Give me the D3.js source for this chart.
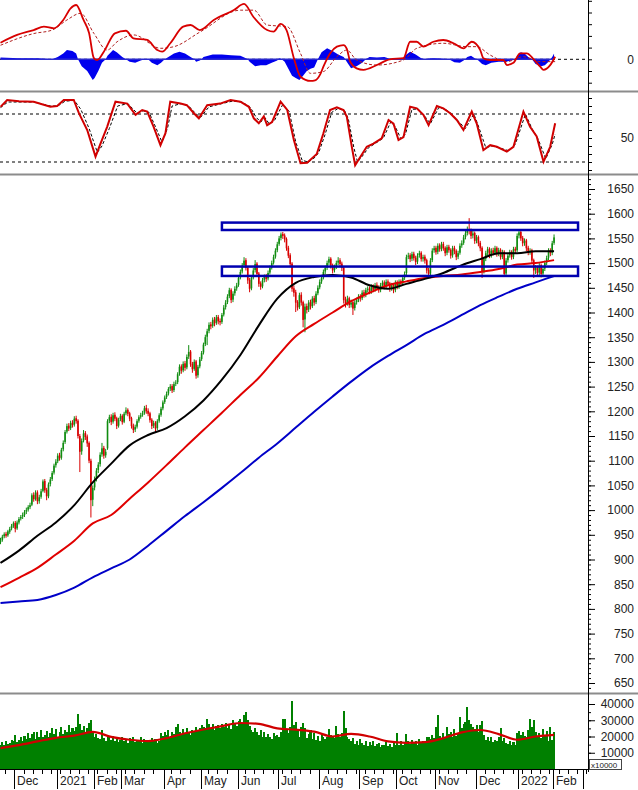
<!DOCTYPE html>
<html>
<head>
<meta charset="utf-8">
<script src="https://cdn.jsdelivr.net/npm/d3@7"></script>
<style>
  body { margin: 0; background: #fff; }
  svg { display: block; font-family: "Liberation Sans", Arial, sans-serif; }
</style>
</head>
<body>
<svg id="chart" width="638" height="790"></svg>
<script>
// daily sessions, 19 Nov 2020 .. 7 Feb 2022 (index = trading day)
var opens = [935,940,947,952,949,956,963,968,974,963,
975,983,987,990,997,1001,1006,1011,1031,1022,
1036,1018,1027,1039,1059,1041,1028,1053,1063,1076,
1091,1099,1111,1106,1123,1138,1159,1171,1166,1177,
1173,1186,1181,1150,1119,1141,1156,1149,1136,1100,
1021,1046,1063,1081,1093,1113,1126,1111,1125,1181,
1189,1179,1193,1186,1171,1184,1191,1179,1196,1203,
1196,1186,1171,1163,1169,1181,1189,1193,1197,1207,
1201,1196,1183,1171,1177,1166,1181,1193,1206,1219,
1229,1236,1246,1251,1243,1256,1259,1276,1291,1283,
1297,1289,1311,1321,1296,1286,1301,1273,1291,1306,
1319,1336,1351,1363,1376,1373,1386,1379,1391,1383,
1381,1396,1411,1421,1433,1446,1426,1439,1449,1456,
1471,1483,1496,1506,1491,1466,1449,1471,1486,1499,
1479,1459,1453,1466,1473,1469,1481,1491,1501,1513,
1526,1539,1551,1559,1556,1549,1531,1516,1499,1449,
1441,1421,1411,1436,1421,1386,1413,1406,1421,1413,
1429,1421,1439,1451,1463,1471,1483,1491,1501,1509,
1496,1486,1493,1501,1506,1499,1491,1426,1419,1429,
1416,1421,1409,1421,1426,1433,1429,1441,1436,1446,
1449,1443,1453,1447,1456,1451,1446,1456,1461,1453,
1463,1459,1449,1456,1446,1461,1453,1463,1459,1471,
1480,1513,1516,1509,1519,1511,1503,1516,1521,1509,
1513,1506,1486,1479,1506,1526,1531,1523,1536,1529,
1539,1531,1521,1533,1527,1516,1531,1525,1513,1521,
1536,1541,1553,1561,1569,1566,1556,1561,1546,1553,
1541,1531,1483,1509,1521,1529,1516,1526,1521,1531,
1519,1527,1513,1523,1479,1506,1516,1523,1513,1529,
1526,1556,1563,1551,1541,1546,1531,1523,1526,1506,
1486,1491,1481,1496,1479,1489,1501,1511,1526,1521,1541];

var highs = [944,950,955,956,960,966,972,977,978,979,
986,990,995,1000,1005,1010,1015,1034,1036,1040,
1040,1031,1043,1062,1063,1045,1056,1067,1079,1094,
1103,1115,1116,1126,1141,1162,1175,1176,1181,1182,
1190,1191,1184,1154,1145,1162,1160,1153,1139,1104,
1050,1068,1085,1097,1117,1136,1130,1124,1184,1193,
1194,1197,1198,1189,1187,1195,1194,1199,1208,1206,
1199,1189,1175,1173,1184,1192,1197,1201,1211,1213,
1206,1199,1186,1181,1180,1184,1196,1209,1222,1232,
1240,1249,1255,1255,1260,1263,1279,1295,1295,1301,
1302,1315,1334,1324,1300,1305,1304,1294,1310,1322,
1339,1355,1367,1380,1381,1390,1391,1395,1395,1388,
1399,1415,1425,1437,1450,1449,1443,1453,1460,1475,
1487,1500,1512,1510,1494,1470,1475,1490,1506,1502,
1482,1463,1470,1477,1478,1485,1495,1505,1517,1530,
1543,1555,1562,1563,1560,1552,1535,1520,1502,1455,
1446,1425,1440,1441,1424,1418,1418,1425,1426,1433,
1434,1443,1455,1467,1475,1487,1495,1505,1513,1512,
1499,1497,1505,1512,1510,1503,1494,1432,1434,1432,
1426,1424,1425,1430,1437,1437,1445,1446,1450,1453,
1453,1457,1457,1460,1461,1455,1460,1465,1465,1467,
1467,1462,1460,1459,1465,1465,1467,1467,1475,1483,
1517,1521,1520,1523,1523,1515,1520,1525,1524,1517,
1517,1509,1490,1510,1530,1535,1535,1540,1540,1543,
1543,1534,1537,1537,1530,1535,1535,1528,1525,1540,
1546,1557,1565,1574,1591,1570,1565,1564,1557,1556,
1545,1534,1512,1525,1533,1532,1530,1531,1535,1534,
1531,1530,1527,1526,1510,1520,1527,1526,1533,1533,
1560,1567,1566,1555,1550,1549,1535,1530,1529,1509,
1496,1495,1500,1499,1493,1505,1515,1530,1530,1545,1558];

var lows = [931,936,943,944,946,952,959,964,955,960,
971,979,982,986,992,997,1002,1008,1017,1019,
1012,1013,1023,1036,1035,1020,1024,1048,1059,1072,
1086,1095,1100,1102,1119,1134,1155,1160,1162,1167,
1169,1175,1145,1077,1112,1137,1142,1128,1095,985,
1008,1040,1058,1075,1088,1108,1104,1106,1122,1176,
1172,1175,1180,1164,1167,1180,1173,1176,1192,1190,
1180,1165,1156,1158,1165,1177,1185,1189,1193,1195,
1190,1177,1164,1166,1156,1162,1177,1189,1202,1215,
1225,1232,1241,1237,1239,1251,1255,1272,1276,1279,
1282,1285,1306,1290,1278,1282,1266,1268,1287,1302,
1315,1332,1334,1358,1366,1369,1372,1375,1376,1374,
1377,1392,1406,1417,1429,1419,1421,1434,1444,1452,
1467,1479,1491,1485,1458,1441,1445,1467,1481,1472,
1452,1446,1449,1461,1462,1465,1477,1487,1497,1509,
1522,1535,1546,1549,1542,1525,1510,1492,1442,1432,
1401,1404,1407,1414,1370,1360,1398,1401,1406,1409,
1414,1417,1435,1447,1458,1467,1478,1486,1496,1489,
1479,1481,1488,1496,1492,1484,1418,1410,1414,1409,
1410,1395,1404,1416,1421,1422,1425,1430,1431,1441,
1437,1438,1441,1442,1445,1440,1441,1451,1447,1448,
1453,1442,1444,1439,1441,1447,1448,1453,1455,1466,
1476,1508,1502,1504,1505,1496,1498,1511,1503,1503,
1499,1479,1471,1475,1502,1521,1517,1518,1523,1524,
1525,1514,1516,1521,1509,1511,1518,1506,1508,1517,
1531,1537,1548,1556,1558,1549,1550,1539,1540,1534,
1524,1470,1479,1504,1516,1510,1511,1515,1516,1513,
1514,1507,1508,1472,1475,1501,1511,1507,1508,1520,
1522,1550,1545,1534,1535,1524,1516,1517,1499,1470,
1478,1472,1476,1471,1473,1484,1496,1506,1514,1516,1537];

var closes = [940,946,951,948,957,962,968,973,962,975,
982,986,990,996,1000,1006,1010,1030,1022,1035,
1018,1026,1038,1058,1040,1028,1052,1062,1075,1090,
1098,1110,1105,1122,1136,1158,1170,1165,1176,1172,
1185,1180,1150,1118,1140,1155,1148,1135,1100,1020,
1045,1062,1080,1092,1112,1125,1110,1118,1180,1188,
1178,1192,1185,1170,1183,1190,1178,1195,1202,1195,
1185,1170,1162,1168,1180,1188,1192,1196,1206,1200,
1195,1182,1170,1176,1165,1180,1192,1205,1218,1228,
1235,1245,1250,1242,1255,1258,1275,1290,1282,1296,
1288,1310,1320,1295,1285,1300,1272,1290,1305,1318,
1335,1350,1362,1375,1372,1385,1378,1390,1382,1380,
1395,1410,1420,1432,1445,1425,1438,1448,1455,1470,
1482,1495,1505,1490,1465,1448,1470,1485,1498,1478,
1458,1452,1465,1472,1468,1480,1490,1500,1512,1525,
1538,1550,1558,1555,1548,1530,1515,1498,1448,1440,
1420,1410,1435,1420,1385,1412,1405,1420,1412,1428,
1420,1438,1450,1462,1470,1482,1490,1500,1508,1495,
1485,1492,1500,1505,1498,1490,1425,1418,1428,1415,
1420,1408,1420,1425,1432,1428,1440,1435,1445,1448,
1442,1452,1446,1455,1450,1445,1455,1460,1452,1462,
1458,1448,1455,1445,1460,1452,1462,1458,1470,1478,
1512,1515,1508,1518,1510,1502,1515,1520,1508,1512,
1505,1485,1478,1505,1525,1530,1522,1535,1528,1538,
1530,1520,1532,1526,1515,1530,1524,1512,1520,1535,
1540,1552,1560,1568,1565,1555,1560,1545,1552,1540,
1530,1482,1508,1520,1528,1515,1525,1520,1530,1518,
1526,1512,1522,1478,1505,1515,1522,1512,1528,1525,
1555,1562,1550,1540,1545,1530,1522,1525,1505,1485,
1490,1480,1495,1478,1488,1500,1510,1525,1520,1540,1552];

var volumes = [15000,16500,14500,17000,15500,16000,18000,17500,21000,16500,
18000,19500,17000,20500,18500,22000,19000,21500,23000,18500,
22500,20000,24000,19500,21000,23500,20000,22000,25000,21500,
24500,20000,23000,26000,21500,24000,22500,27000,23000,25000,
23500,26000,34000,27500,24000,26500,23000,25000,28500,30000,
22000,20000,21500,19000,18500,24000,19000,17500,21000,19500,
18000,20500,17000,19500,16500,18000,20000,17000,18500,16000,
19000,17500,20000,16500,18000,17000,19500,16000,18500,17500,
18000,16500,19000,17000,18500,16000,17500,22000,20500,23000,
21000,24000,20000,22500,21500,26000,27500,23000,21000,24500,
22000,25500,23000,21000,24000,22500,26000,23500,25000,27000,
26000,25000,31000,27500,25000,28000,24000,26500,27000,25500,
27500,26000,28500,25000,27000,24500,30000,28000,26500,29500,
31000,28500,33000,35000,30000,26500,24000,22500,25000,23000,
21000,24000,20000,22500,19500,21500,20000,18500,22000,20500,
21000,19500,23000,30500,31000,24000,22000,26000,42000,27000,
29000,24500,20000,26000,28500,25500,19000,21500,24000,18500,
22000,18000,20500,17500,21000,19500,18500,20000,24500,21000,
20000,19000,26500,21500,20000,22000,36000,25500,20000,18500,
17500,19000,15500,17000,14500,18500,16000,15000,17500,14000,
16500,15000,17000,14000,15500,16000,13500,15000,14500,16500,
14000,15500,13500,16000,14500,22000,15000,17000,14500,16500,
21500,17000,15500,18000,16000,17500,15000,18500,16500,17000,
16000,19500,20000,18500,21000,19000,26000,33000,20500,19000,
22000,20000,26000,21500,23000,19500,24500,20500,22000,32000,
25000,27500,29000,38000,30000,28000,26000,24500,27000,23000,
27000,29500,21000,18000,20000,17000,19500,16500,18000,17500,
20000,25000,17500,19000,16000,15500,17000,14500,16500,15000,
22000,23500,21000,22500,20500,19500,24000,31000,26000,30000,
23000,20500,22000,19000,24500,21000,23500,17500,26000,18000,22500];

var maStep = 10;
var maBlack = [893,918,948,975,1010,1056,1094,1131,1152,1166,1190,1222,1264,1314,1374,1428,1460,1472,1476,1471,1455,1448,1458,1468,1480,1496,1508,1520,1520,1524,1524];
var maRed = [844,863,883,910,938,973,990,1023,1056,1091,1127,1162,1197,1233,1268,1311,1352,1377,1400,1423,1440,1455,1463,1470,1474,1477,1482,1488,1497,1500,1506];
var maBlue = [812,815,818,828,843,864,882,900,928,958,988,1016,1045,1075,1106,1135,1167,1199,1230,1260,1288,1312,1334,1357,1375,1395,1415,1432,1448,1461,1474];
var volMa = [12900,14700,17000,19200,20500,22800,19800,18000,17200,19000,22000,24300,26400,28300,27800,25000,24200,23000,20000,21600,20000,17000,16100,16500,19000,22500,24000,21500,18000,20000,21000];

// indicator readings [session, value]
var macdLine = [[0,14.2],[9,20.8],[18,25],[23.5,27.9],[29,26.5],[34,33.6],[38,43.6],[41,46.4],[45,33.6],[48,22.5],[50.6,1],[52.4,-0.6],[56,6.5],[62,22.2],[68,24.4],[72,17.9],[79.5,16.5],[85,7.9],[87.6,6.5],[92,13.7],[99,27.9],[103,29.3],[108,25],[115.6,33.6],[126.5,42.1],[132,47.3],[137,36.4],[144.5,25],[148,23.6],[151.8,30.2],[155,25],[159,0.9],[162.6,-14.9],[168,-18.5],[170.5,-18],[173.4,-12.5],[175,-6.3],[178.6,5],[182.3,10.8],[185.9,12.2],[187.7,9],[189.5,-2],[193,-7.7],[196.7,-9],[204,-4.9],[211,0],[218.4,1],[222,15],[225.6,15],[229.2,10.8],[234.6,15],[240,16.5],[245.5,13.7],[251,9.4],[255.4,15],[260,7.9],[261.7,0.9],[265.4,-0.6],[272.6,-0.6],[274.4,-4.9],[278,-3],[281.6,5],[285.2,5],[289,0],[292.5,-6.3],[294.3,-9],[297.9,-5],[300.6,2.2]];
var macdSignal = [[0,12],[18,22],[28,25],[36,33.6],[43.4,39.3],[50.6,22.2],[57.8,7.9],[63.2,15],[72.3,20.8],[86.7,9.4],[94,10.8],[108.4,23.6],[130,42],[137.3,42],[144.5,29.3],[155.4,27.9],[162.6,5],[168,-12],[175,-10.5],[182.3,2.2],[187.7,7.9],[193,-0.6],[204,-4.9],[218.4,-0.6],[225.6,9.4],[240,13.7],[252.7,10.8],[258,10.8],[265.4,3.6],[274.4,-2],[283.4,2.2],[292.5,-2],[300.6,-2]];
var macdHist = [[0,1.5],[10,1],[20,1],[24,0.5],[28,0],[31,2],[34,5],[36,8],[39,7],[41,5],[42,0],[44,-6],[47,-10],[50,-17.7],[51,-16],[53,-10],[55,-3],[57,0],[58,3],[61,8],[63,6],[66,2],[68,0],[70,-2],[73,-3],[76,-1],[78,0],[80,0],[82,-3],[85,-5],[87,-3],[89,0],[91,2],[94,5],[97,6.5],[100,5],[103,2],[105,0],[106,-2],[108,-1],[109,0],[110,2],[115,4],[120,4],[125,3.5],[130,3],[133,1],[134,0],[135,-2],[138,-6],[141,-5],[144,-5],[147,-3],[150,-1],[151,1],[152,0.5],[154,-2],[156,-8],[158,-14],[160,-16],[162,-17.7],[164,-14],[166,-10],[168,-8],[170,-7],[172,0],[174,6],[177,9.4],[180,7],[183,4],[186,2],[188,-3],[190,-7.7],[193,-6],[196,-3],[198,0],[200,2],[204,1.5],[208,2],[211,0.5],[215,0],[218,1],[220,4],[222,6.5],[225,4],[228,1],[230,0],[233,1],[236,1],[240,0.5],[243,0],[246,-2.5],[249,-3],[251,-1],[253,2],[255,3],[257,1],[259,-1],[261,-4],[263,-5],[266,-3],[270,-2],[274,-2],[277,-1],[279,0],[280,3],[282,6],[284,5],[286,2],[288,0],[290,-4],[293,-6],[295,-5],[297,-2],[299,2],[300,5]];
var stochK = [[0,89],[3.6,97.5],[10,96],[18,95.4],[27,89],[30.7,90],[34.3,97.5],[39.7,97.5],[42.5,81],[47,60],[51.5,26.7],[54.2,43],[57.8,64],[62.3,95.4],[68.7,93],[73.2,79],[76.8,85],[79.5,83],[83,64],[86.7,41],[89.4,56],[92,95.4],[97.6,93],[101,91],[104.8,81],[107.5,74.6],[112,91],[119,93],[124.7,97.5],[130,95.4],[134.6,89],[137.3,74.6],[140,68.4],[142.7,77],[144.5,66],[147.2,70],[151.8,95.4],[155.4,85],[159,47.5],[162.6,18.4],[166.2,19],[169.8,26.7],[171.4,30],[175,56],[178.6,85],[182.3,88.4],[185.9,85],[187.7,76.6],[190.4,39],[192.2,16],[194.9,26],[198.5,39],[202.1,43],[206.6,49.6],[210.3,72.5],[213,68],[215.7,47.5],[218.4,51],[222,89],[225.6,87],[229.2,79],[232,66],[236.5,90],[240,87],[243.7,81],[247.3,72.5],[250.9,60],[255.4,83],[258.1,68],[261.7,35],[265.4,41],[269,39],[274.4,33],[278,39],[283.4,83],[287,64],[290.6,52],[294.3,20.4],[297.9,39],[300.6,68.4]];
var stochD = [[0,88],[4,95],[18,95],[27,90],[31,90],[35,96],[40,97],[43.5,86],[48,62],[52.5,32],[55,40],[59,62],[63.5,90],[69,93],[74,81],[77.5,84],[80.5,82],[84,64],[87.5,45],[90.5,62],[93,90],[98,93],[102,90],[106,80],[108.5,76],[113,89],[120,93],[125.5,96],[131,95],[135.5,88],[138.5,76],[141,70],[143.5,75],[145.5,68],[148.5,72],[153,92],[156.5,83],[160,45],[163.5,22],[167,20],[170.5,26],[172.5,32],[176,55],[179.5,82],[183,87],[186.5,84],[188.5,74],[191.5,38],[193.5,20],[196,27],[199.5,38],[203,43],[207.5,50],[211.5,70],[214,64],[217,49],[219.5,55],[223,86],[226.5,86],[230,77],[233,68],[237.5,88],[241,86],[244.5,80],[248.5,70],[252,62],[256.5,80],[259,65],[263,38],[266.5,40],[270,38],[275.5,34],[279,42],[284.5,80],[288,62],[291.5,48],[295.5,24],[299,42],[300.6,55]];

// support / resistance zones drawn on the chart
var zoneFrom = [120, 120];
var zoneTo = [313, 313];
var zoneTop = [1582, 1493];
var zoneBottom = [1567, 1474];

var priceTicks = d3.range(650, 1651, 50);
var volumeTicks = [10000, 20000, 30000, 40000];
var monthTicks = [7.5, 30.5, 50.5, 65.5, 88.5, 108.5, 128.5, 150.5, 172.5, 194.5, 214.5, 235.5, 257.5, 280.5, 299.5, 315.5];
var monthLabels = ["Dec", "2021", "Feb", "Mar", "Apr", "May", "Jun", "Jul", "Aug", "Sep", "Oct", "Nov", "Dec", "2022", "Feb", ""];

var svg = d3.select("#chart");
var W = 638, axisX = 588;
var up = "#108c10", down = "#d80000";

var x = d3.scaleLinear().domain([0, 318.4]).range([0.5, axisX]);
var yPrice = d3.scaleLinear().domain([650, 1650]).range([683, 189]);
var yVol = d3.scaleLinear().domain([0, 40000]).range([769, 704]);
var yMacd = d3.scaleLinear().domain([0, 10]).range([59.3, 47.6]);
var yStoch = d3.scaleLinear().domain([20, 80]).range([162, 114]);

var panels = {macd: [0, 90], stoch: [93, 173], price: [176, 692], vol: [695, 769]};
Object.keys(panels).forEach(function(k) {
  svg.append("clipPath").attr("id", "clip-" + k).append("rect")
    .attr("x", 0).attr("y", panels[k][0])
    .attr("width", axisX).attr("height", panels[k][1] - panels[k][0]);
});

function series(arr) { return arr.map(function(v, k) { return [k * maStep, v]; }); }

// ---- MACD panel ----
var gMacd = svg.append("g").attr("clip-path", "url(#clip-macd)");
gMacd.append("line").attr("x1", 0).attr("x2", axisX)
  .attr("y1", yMacd(0)).attr("y2", yMacd(0))
  .attr("stroke", "#000").attr("stroke-dasharray", "3,3");
gMacd.append("path").datum(macdHist)
  .attr("fill", "#0000ee")
  .attr("d", d3.area().x(d => x(d[0])).y0(yMacd(0)).y1(d => yMacd(d[1])));
gMacd.append("line").attr("x1", x(0)).attr("x2", x(closes.length - 1))
  .attr("y1", yMacd(0)).attr("y2", yMacd(0))
  .attr("stroke", "#2a2ad0").attr("stroke-width", 1.5);
gMacd.append("path").datum(macdSignal)
  .attr("fill", "none").attr("stroke", "#b02020").attr("stroke-width", 1)
  .attr("stroke-dasharray", "3,2")
  .attr("d", d3.line().x(d => x(d[0])).y(d => yMacd(d[1])).curve(d3.curveMonotoneX));
gMacd.append("path").datum(macdLine)
  .attr("fill", "none").attr("stroke", "#d80000").attr("stroke-width", 1.8)
  .attr("d", d3.line().x(d => x(d[0])).y(d => yMacd(d[1])).curve(d3.curveMonotoneX));

// ---- stochastic panel ----
var gSto = svg.append("g").attr("clip-path", "url(#clip-stoch)");
[80, 20].forEach(function(v) {
  gSto.append("line").attr("x1", 0).attr("x2", axisX)
    .attr("y1", yStoch(v)).attr("y2", yStoch(v))
    .attr("stroke", "#000").attr("stroke-dasharray", "3,3");
});
gSto.append("path").datum(stochD)
  .attr("fill", "none").attr("stroke", "#000").attr("stroke-width", 1)
  .attr("stroke-dasharray", "3,2")
  .attr("d", d3.line().x(d => x(d[0])).y(d => yStoch(d[1])));
gSto.append("path").datum(stochK)
  .attr("fill", "none").attr("stroke", "#d00000").attr("stroke-width", 2)
  .attr("d", d3.line().x(d => x(d[0])).y(d => yStoch(d[1])));

// ---- price panel ----
var idx = d3.range(closes.length);
var gPrice = svg.append("g").attr("clip-path", "url(#clip-price)");
gPrice.selectAll("line.wick").data(idx).join("line")
  .attr("class", "wick")
  .attr("x1", i => x(i)).attr("x2", i => x(i))
  .attr("y1", i => yPrice(highs[i])).attr("y2", i => yPrice(lows[i]))
  .attr("stroke", i => closes[i] >= opens[i] ? up : down).attr("stroke-width", 1);
gPrice.selectAll("rect.body").data(idx).join("rect")
  .attr("class", "body")
  .attr("x", i => x(i) - 0.8).attr("width", 1.6)
  .attr("y", i => yPrice(Math.max(opens[i], closes[i])))
  .attr("height", i => Math.max(1, Math.abs(yPrice(opens[i]) - yPrice(closes[i]))))
  .attr("fill", i => closes[i] >= opens[i] ? up : down);

var maLine = d3.line().x(d => x(d[0])).y(d => yPrice(d[1])).curve(d3.curveMonotoneX);
gPrice.append("path").datum(series(maBlue)).attr("fill", "none")
  .attr("stroke", "#0000c8").attr("stroke-width", 2).attr("d", maLine);
gPrice.append("path").datum(series(maRed)).attr("fill", "none")
  .attr("stroke", "#e00000").attr("stroke-width", 2).attr("d", maLine);
gPrice.append("path").datum(series(maBlack)).attr("fill", "none")
  .attr("stroke", "#000").attr("stroke-width", 2).attr("d", maLine);

gPrice.selectAll("rect.zone").data(zoneTop).join("rect")
  .attr("class", "zone")
  .attr("x", (d, k) => x(zoneFrom[k])).attr("width", (d, k) => x(zoneTo[k]) - x(zoneFrom[k]))
  .attr("y", d => yPrice(d)).attr("height", (d, k) => yPrice(zoneBottom[k]) - yPrice(d))
  .attr("fill", "none").attr("stroke", "#0000b0").attr("stroke-width", 2.5);

// ---- volume panel ----
var gVol = svg.append("g").attr("clip-path", "url(#clip-vol)");
gVol.selectAll("rect").data(idx).join("rect")
  .attr("x", i => x(i) - 1).attr("width", 2.05)
  .attr("y", i => yVol(volumes[i])).attr("height", i => yVol(0) - yVol(volumes[i]))
  .attr("fill", "#008000").attr("shape-rendering", "crispEdges");
gVol.append("path").datum(series(volMa)).attr("fill", "none")
  .attr("stroke", "#d00000").attr("stroke-width", 2.2)
  .attr("d", d3.line().x(d => x(d[0])).y(d => yVol(d[1])).curve(d3.curveMonotoneX));

// ---- panel separators ----
[91.5, 174.5, 693.5].forEach(function(y) {
  svg.append("line").attr("x1", 0).attr("x2", W).attr("y1", y).attr("y2", y)
    .attr("stroke", "#8c8c8c").attr("stroke-width", 2);
});

// ---- right axes ----
function rightAxis(scale, values, size, labels) {
  var g = svg.append("g").attr("transform", "translate(" + axisX + ",0)");
  g.call(d3.axisRight(scale).tickValues(values).tickSize(size).tickSizeOuter(0)
    .tickFormat(labels ? labels : ""));
  g.select(".domain").remove();
  g.attr("font-family", null).attr("font-size", 12);
  g.selectAll("text").attr("x", 46).attr("text-anchor", "end").attr("fill", "#222");
  return g;
}
rightAxis(yPrice, d3.range(640, 1671, 10), 3);
rightAxis(yPrice, priceTicks, 7, d3.format("d"));
rightAxis(yVol, d3.range(5000, 42000, 5000), 3);
rightAxis(yVol, volumeTicks, 7, d3.format("d"));
rightAxis(yMacd, d3.range(-20, 51, 10), 4, d => d === 0 ? "0" : "");
rightAxis(yStoch, d3.range(10, 101, 10), 4, d => d === 50 ? "50" : "");

svg.append("line").attr("x1", axisX + 0.5).attr("x2", axisX + 0.5)
  .attr("y1", 0).attr("y2", 772).attr("stroke", "#000");

// x10000 unit box
svg.append("rect").attr("x", 589.5).attr("y", 759.5).attr("width", 32).attr("height", 10)
  .attr("fill", "#fff").attr("stroke", "#444");
svg.append("text").attr("x", 591).attr("y", 767.5).attr("font-size", 8)
  .attr("fill", "#222").text("x10000");

// ---- time axis ----
svg.append("line").attr("x1", 0).attr("x2", axisX).attr("y1", 769.5).attr("y2", 769.5)
  .attr("stroke", "#000");
var minor = d3.range(2.5, 318, 5).filter(t => monthTicks.every(m => Math.abs(m - t) > 1.5));
svg.selectAll("line.minor").data(minor).join("line")
  .attr("class", "minor")
  .attr("x1", t => Math.round(x(t)) + 0.5).attr("x2", t => Math.round(x(t)) + 0.5)
  .attr("y1", 770).attr("y2", 774).attr("stroke", "#000");
svg.selectAll("line.month").data(monthTicks).join("line")
  .attr("class", "month")
  .attr("x1", t => Math.round(x(t)) + 0.5).attr("x2", t => Math.round(x(t)) + 0.5)
  .attr("y1", 770).attr("y2", 789).attr("stroke", "#000");
svg.selectAll("text.month").data(monthTicks).join("text")
  .attr("class", "month")
  .attr("x", t => Math.round(x(t)) + 3).attr("y", 785)
  .attr("font-size", 12).attr("fill", "#222")
  .text((t, k) => monthLabels[k]);
</script>
</body>
</html>
